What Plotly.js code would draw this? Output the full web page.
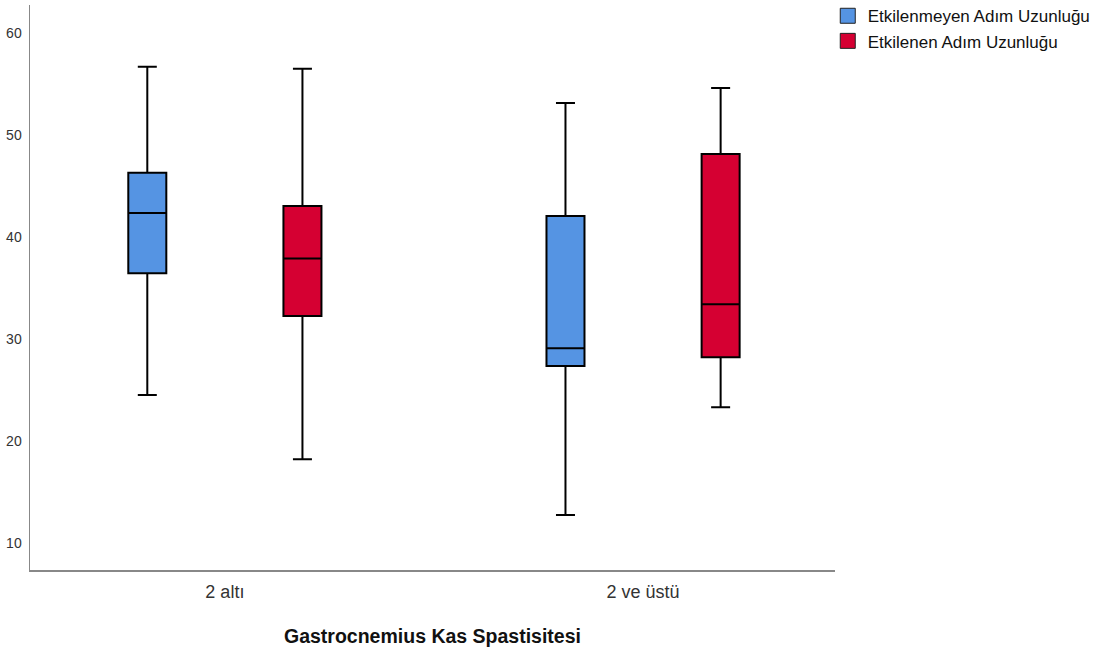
<!DOCTYPE html>
<html>
<head>
<meta charset="utf-8">
<script src="https://cdn.plot.ly/plotly-3.0.1.min.js"></script>
<style>html,body{margin:0;padding:0;background:#fff;}#chart{width:1100px;height:653px;}</style>
</head>
<body>
<div id="chart"></div>
<script>
const categories = ["2 altı", "2 ve üstü"];
const seriesNames = ["Etkilenmeyen Adım Uzunluğu", "Etkilenen Adım Uzunluğu"];
const seriesColors = ["#5594E3", "#D50032"];
// per series, per category
const lowerWhisker = [[24.5, 12.75], [18.2, 23.3]];
const q1Values     = [[36.45, 27.35], [32.25, 28.2]];
const medianValues = [[42.35, 29.1], [37.9, 33.4]];
const q3Values     = [[46.3, 42.05], [43.05, 48.15]];
const upperWhisker = [[56.7, 53.15], [56.5, 54.6]];

const font = "Liberation Sans, Arial, sans-serif";
const traces = [];
seriesNames.forEach((name, i) => {
  traces.push({
    type: "box",
    name: name,
    x: categories,
    q1: q1Values[i],
    median: medianValues[i],
    q3: q3Values[i],
    lowerfence: lowerWhisker[i],
    upperfence: upperWhisker[i],
    fillcolor: seriesColors[i],
    line: {color: "#000", width: 2},
    whiskerwidth: 0.5,
    showlegend: false,
    hoverinfo: "skip"
  });
});
seriesNames.forEach((name, i) => {
  traces.push({
    type: "scatter",
    mode: "markers",
    name: name,
    x: [null], y: [null],
    marker: {symbol: "square", size: 15, color: seriesColors[i], line: {color: "#222", width: 1}},
    showlegend: true
  });
});

const layout = {
  width: 1100, height: 653,
  margin: {l: 30, r: 265, t: 5, b: 83, autoexpand: false},
  paper_bgcolor: "#fff", plot_bgcolor: "#fff",
  boxmode: "group",
  boxgap: 0.258,
  boxgroupgap: 0.755,
  font: {family: font, color: "#222"},
  xaxis: {
    type: "category",
    range: [-0.466, 1.459],
    showgrid: false, zeroline: false,
    showline: true, linecolor: "#888", linewidth: 1.5,
    ticks: "",
    ticklabelstandoff: 5,
    tickfont: {size: 18, color: "#333", family: font},
    title: {text: "Gastrocnemius Kas Spastisitesi", font: {size: 19.5, color: "#111", family: font, weight: "bold"}, standoff: 28}
  },
  yaxis: {
    range: [7.35, 62.75],
    tickvals: [10, 20, 30, 40, 50, 60],
    showgrid: false, zeroline: false,
    showline: true, linecolor: "#888", linewidth: 1.5,
    ticks: "",
    ticklabelstandoff: 4,
    tickfont: {size: 14, color: "#333", family: font}
  },
  legend: {
    x: 0.991, y: 1.012, xanchor: "left", yanchor: "top",
    font: {size: 17, color: "#111", family: font},
    itemwidth: 30,
    tracegroupgap: 0,
    bgcolor: "rgba(0,0,0,0)"
  },
  showlegend: true
};
Plotly.newPlot("chart", traces, layout, {displayModeBar: false, staticPlot: true});
</script>
</body>
</html>
